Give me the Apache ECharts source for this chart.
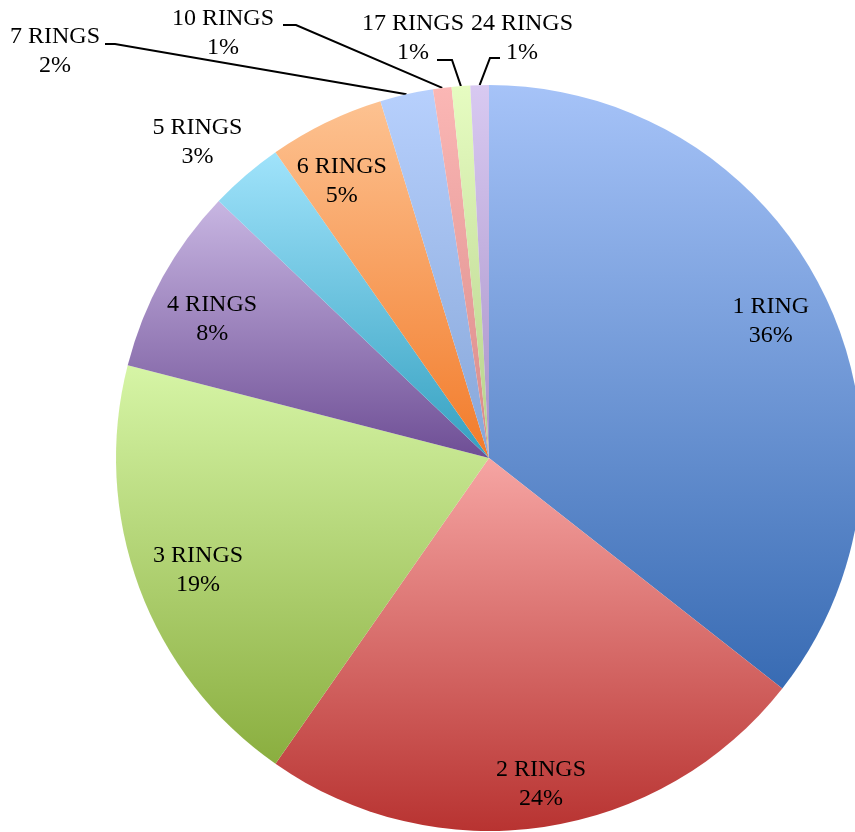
<!DOCTYPE html>
<html><head><meta charset="utf-8">
<script src="https://cdn.jsdelivr.net/npm/echarts@6/dist/echarts.min.js"></script>
<style>html,body{margin:0;padding:0;background:#fff}#c{width:855px;height:832px}</style>
</head><body><div id="c"></div>
<script>
// ---- data ----
const categories = ['1 RING','2 RINGS','3 RINGS','4 RINGS','5 RINGS','6 RINGS','7 RINGS','10 RINGS','17 RINGS','24 RINGS'];
const shares = [35.6, 24.1, 19.3, 8.1, 3.2, 5.0, 2.3, 0.8, 0.8, 0.8];

// ---- styles ----
const topColors    = ['#a6c3f8','#f6a5a3','#d6f5a6','#c8b6e2','#a0e3fb','#fdc291','#b7d0fd','#fbb7b5','#e6fcc1','#d8c9f1'];
const bottomColors = ['#386bb3','#b83331','#8aae3f','#6e4e95','#34a0c0','#f27b2a','#86a6d8','#d98a88','#b5d08a','#a892c8'];

// ---- layout ----
const CX = 489, CY = 458, R = 373;
const labelRadial = [0.84, 0.885, 0.836, 0.83, 1.153, 0.84, null, null, null, null];
const labelAngleShift = [0, -0.6, -0.75, -2.4, -2.0, -2.1, 0, 0, 0, 0]; // degrees
const callouts = {
  6: {x: 55,  y: 51, line: [[115, 44], [105, 44]]},
  7: {x: 223, y: 33, line: [[296, 25], [283, 25]]},
  8: {x: 413, y: 38, line: [[452, 60], [437, 60]]},
  9: {x: 522, y: 38, line: [[490, 58], [500, 58]]}
};

const total = shares.reduce((a, b) => a + b, 0);
const midAngles = [];
let acc = 0;
shares.forEach(v => { midAngles.push((acc + v / 2) / total * 2 * Math.PI); acc += v; });
function polar(a, k) { return [CX + k * R * Math.sin(a), CY - k * R * Math.cos(a)]; }

const chart = echarts.init(document.getElementById('c'), null, {renderer: 'canvas'});
const data = categories.map((name, i) => ({
  name: name,
  value: shares[i],
  itemStyle: {
    color: new echarts.graphic.LinearGradient(0, 0, 0, 1, [
      {offset: 0, color: topColors[i]},
      {offset: 1, color: bottomColors[i]}
    ])
  },
  labelLine: {show: !!callouts[i]}
}));

chart.setOption({
  animation: false,
  backgroundColor: '#ffffff',
  series: [{
    type: 'pie',
    center: [CX, CY],
    radius: R,
    startAngle: 90,
    clockwise: true,
    avoidLabelOverlap: false,
    silent: true,
    itemStyle: {borderWidth: 0},
    label: {
      show: true,
      position: 'outside',
      formatter: p => p.name + '\n' + Math.round(p.percent) + '%',
      color: '#000',
      fontFamily: 'Liberation Serif',
      fontSize: 24,
      lineHeight: 29,
      align: 'center'
    },
    labelLine: {show: false, lineStyle: {color: '#000', width: 2}},
    labelLayout: function (p) {
      const i = p.dataIndex;
      const c = callouts[i];
      if (c) {
        return {x: c.x, y: c.y, align: 'center', verticalAlign: 'middle',
                labelLinePoints: [polar(midAngles[i], 1), c.line[0], c.line[1]]};
      }
      const pt = polar(midAngles[i] + labelAngleShift[i] * Math.PI / 180, labelRadial[i]);
      return {x: pt[0], y: pt[1], align: 'center', verticalAlign: 'middle'};
    },
    data: data
  }]
});
</script>
</body></html>
